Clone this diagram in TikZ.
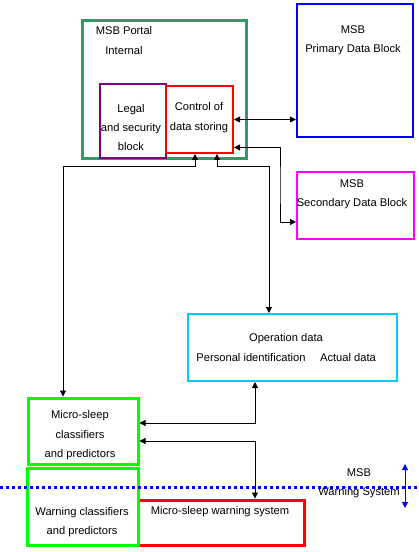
\documentclass[tikz,border=0pt]{standalone}
\usepackage{fontspec}
\setmainfont{Liberation Sans}
\usepackage{xcolor}
\usetikzlibrary{arrows.meta,calc}

\definecolor{portalgreen}{HTML}{339966}
\definecolor{legalpurple}{HTML}{800080}
\definecolor{opscyan}{HTML}{00CCFF}
\definecolor{limegreen}{HTML}{00FF00}
\definecolor{secmagenta}{HTML}{FF00FF}
\definecolor{pureblue}{HTML}{0000FF}
\definecolor{purered}{HTML}{FF0000}

\begin{document}
\begin{tikzpicture}[x=1bp,y=-1bp,
  box/.style={draw,inner sep=0pt,line width=2bp},
  txt/.style={inner sep=0pt,align=center,font=\fontsize{11.2}{19.5}\selectfont},
  link/.style={black,line width=0.8bp,{Triangle[length=6bp,width=6bp]}-{Triangle[length=6bp,width=6bp]}}]
\useasboundingbox (0,0) rectangle (418,552);

% blocks
\node[box,portalgreen,line width=3bp,minimum width=164bp,minimum height=138bp] (portal) at (164,90) {};
\node[box,legalpurple,minimum width=66bp,minimum height=74bp] (legal) at (133,121) {};
\node[box,purered,minimum width=67bp,minimum height=67bp] (ctrl) at (199.5,119.5) {};
\node[box,pureblue,minimum width=116bp,minimum height=133bp] (prim) at (355,70.5) {};
\node[box,secmagenta,minimum width=117bp,minimum height=67bp] (sec) at (355.5,205.5) {};
\node[box,opscyan,minimum width=209bp,minimum height=67bp] (ops) at (292.5,347.5) {};
\node[box,limegreen,line width=3bp,minimum width=109bp,minimum height=66bp] (mcl) at (83.5,431) {};
\node[box,purered,line width=3bp,minimum width=166bp,minimum height=45bp] (warn) at (221,522.5) {};
\node[box,limegreen,line width=3bp,minimum width=110bp,minimum height=77bp] (wcl) at (83,506.5) {};

% texts
\node[txt] (tportal) at (124,40.5) {MSB Portal\\Internal};
\node[txt] (tlegal) at (131,127.5) {Legal\\and security\\block};
\node[txt] (tctrl) at (199,117.5) {Control of\\data storing};
\node[txt] (tprim) at (353,40.5) {MSB\\Primary Data Block};
\node[txt] (tsec) at (352,194.5) {MSB\\Secondary Data Block};
\node[txt] (tops) at (286,339) {Operation data};
\node[txt] (tpers) at (251,358) {Personal identification};
\node[txt] (tact) at (348,358) {Actual data};
\node[txt] (tmcl) at (80,435.5) {Micro-sleep\\classifiers\\and predictors};
\node[txt] (twcl) at (82,522) {Warning classifiers\\and predictors};
\node[txt] (twarn) at (220,512) {Micro-sleep warning system};
\node[txt] (tlevel) at (359,483.5) {MSB\\Warning System};

% connectors
\coordinate (jr) at (280,185);
\coordinate (jl) at (63,166);
\coordinate (jm) at (269,166);
\draw[link] (ctrl.east) -- (ctrl.east -| prim.west);
\draw[link] ([yshift=6.5bp]ctrl.south east) -| (jr) |- ([yshift=-16.5bp]sec.west);
\draw[link] ([xshift=-4.5bp]ctrl.south) |- (jl) -- (jl |- mcl.north);
\draw[link] ([xshift=17.5bp]ctrl.south) |- (jm) -- (jm |- ops.north);
\draw[link] ([yshift=8bp]mcl.east) -| ([xshift=-37.5bp]ops.south);
\draw[link] ([yshift=-10bp]mcl.east) -| ([xshift=34bp]warn.north);

% level line
\coordinate (sepl) at (0,487);
\coordinate (sepr) at (418,487);
\draw[pureblue,line width=3bp,dash pattern=on 3bp off 3bp] (sepl) -- (sepr);
\coordinate (lvtop) at (405,464);
\coordinate (lvbot) at (405,508);
\draw[pureblue,line width=1bp,{Triangle[length=6bp,width=6bp]}-{Triangle[length=6bp,width=6bp]}] (lvtop) -- (lvbot);
\end{tikzpicture}
\end{document}
